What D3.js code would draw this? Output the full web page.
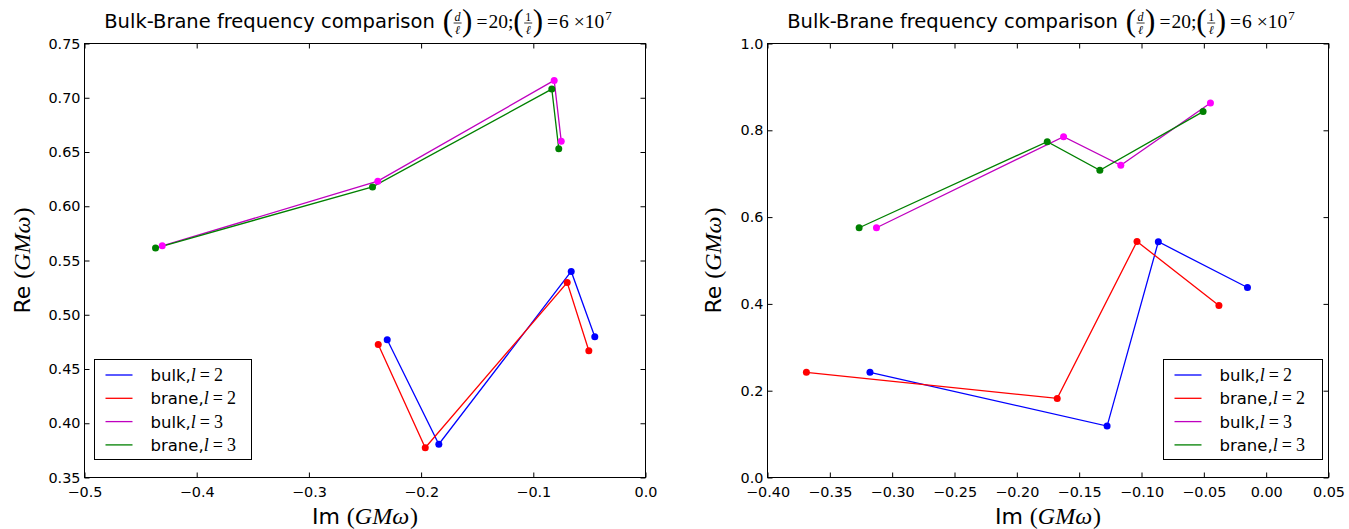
<!DOCTYPE html>
<html>
<head>
<meta charset="utf-8">
<script src="https://cdn.jsdelivr.net/npm/d3@7"></script>
<style>
  body { margin: 0; background: #fff; }
  svg { display: block; }
</style>
</head>
<body>
<svg id="chart" width="1349" height="529"></svg>
<script>
// ---- data: [Im, Re] ----
// left panel
const leftBulkL2  = [[-0.2302, 0.4769], [-0.1842, 0.3807], [-0.0662, 0.5399], [-0.0452, 0.4797]];
const leftBraneL2 = [[-0.2382, 0.4726], [-0.1963, 0.3774], [-0.0698, 0.5297], [-0.0505, 0.4668]];
const leftBulkL3  = [[-0.4307, 0.5635], [-0.2386, 0.6231], [-0.0814, 0.7160], [-0.0751, 0.6600]];
const leftBraneL3 = [[-0.4367, 0.5615], [-0.2433, 0.6178], [-0.0835, 0.7080], [-0.0773, 0.6529]];
// right panel
const rightBulkL2  = [[-0.3178, 0.2423], [-0.1276, 0.1185], [-0.0865, 0.5431], [-0.0150, 0.4377]];
const rightBraneL2 = [[-0.3688, 0.2423], [-0.1676, 0.1823], [-0.1036, 0.5438], [-0.0379, 0.3962]];
const rightBulkL3  = [[-0.3126, 0.5754], [-0.1625, 0.7854], [-0.1166, 0.7192], [-0.0447, 0.8631]];
const rightBraneL3 = [[-0.3265, 0.5754], [-0.1756, 0.7738], [-0.1334, 0.7077], [-0.0506, 0.8431]];

// ticks
const leftXTicks  = [-0.5, -0.4, -0.3, -0.2, -0.1, 0.0];
const leftYTicks  = [0.35, 0.40, 0.45, 0.50, 0.55, 0.60, 0.65, 0.70, 0.75];
const rightXTicks = [-0.40, -0.35, -0.30, -0.25, -0.20, -0.15, -0.10, -0.05, 0.00, 0.05];
const rightYTicks = [0.0, 0.2, 0.4, 0.6, 0.8, 1.0];

const seriesNames = ["bulk,", "brane,", "bulk,", "brane,"];
const seriesL     = ["2", "2", "3", "3"];

// ---- styling ----
const SANS = "DejaVu Sans", SERIF = "Liberation Serif";
const lineColors = ["#0000ff", "#ff0000", "#bf00bf", "#008000"];
const dotColors  = ["#0000ff", "#ff0000", "#ff00ff", "#008000"];

const svg = d3.select("#chart");

// mixed text (sans + math pieces) laid out left to right, centred on cx
function richText(parent, pieces, cx, baseline, rotate){
  const g = parent.append("g");
  const inner = g.append("g");
  let cur = 0;
  pieces.forEach(p => {
    if (p.frac){
      const fs = p.size;
      const n = inner.append("text").text(p.frac[0])
        .attr("font-family", SERIF).attr("font-style", p.numItalic ? "italic" : "normal")
        .attr("font-size", fs).attr("text-anchor", "middle");
      const d = inner.append("text").text(p.frac[1])
        .attr("font-family", SERIF).attr("font-style", "italic")
        .attr("font-size", fs).attr("text-anchor", "middle");
      const w = Math.max(n.node().getComputedTextLength(), d.node().getComputedTextLength()) + 3;
      n.attr("x", cur + w/2).attr("y", baseline - 7.5);
      d.attr("x", cur + w/2).attr("y", baseline + 5.5);
      inner.append("line").attr("x1", cur + 0.5).attr("x2", cur + w - 0.5)
        .attr("y1", baseline - 5).attr("y2", baseline - 5)
        .attr("stroke", "#000").attr("stroke-width", 0.8);
      cur += w;
    } else {
      const t = inner.append("text").text(p.t)
        .attr("x", cur + (p.dx || 0)).attr("y", baseline + (p.dy || 0))
        .attr("font-family", p.serif ? SERIF : SANS)
        .attr("font-style", p.it ? "italic" : "normal")
        .attr("font-size", p.size)
        .attr("fill", "#000");
      cur += (p.dx || 0) + t.node().getComputedTextLength() + (p.after || 0);
    }
  });
  inner.attr("transform", `translate(${-cur/2},0)`);
  if (rotate) g.attr("transform", `translate(${cx},${baseline}) rotate(-90) translate(0,${-baseline})`);
  else g.attr("transform", `translate(${cx},0)`);
  return g;
}

function titlePieces(){
  const big = 31, fs = 19.5;
  return [
    {t: "Bulk-Brane frequency comparison", size: fs, after: 8},
    {t: "(", serif: true, size: big, dy: 3},
    {frac: ["d", "\u2113"], size: 12, numItalic: true},
    {t: ")", serif: true, size: big, dy: 3, after: 4},
    {t: "=", serif: true, size: fs, after: 1},
    {t: "20;", serif: true, size: fs},
    {t: "(", serif: true, size: big, dy: 3},
    {frac: ["1", "\u2113"], size: 12, numItalic: false},
    {t: ")", serif: true, size: big, dy: 3, after: 4},
    {t: "=", serif: true, size: fs, after: 1},
    {t: "6", serif: true, size: fs, after: 5},
    {t: "\u00d710", serif: true, size: fs, after: 1},
    {t: "7", serif: true, size: 13, dy: -8}
  ];
}

function axisLabelPieces(word){
  return [
    {t: word, size: 22, after: 7},
    {t: "(", serif: true, size: 24},
    {t: "GM\u03c9", serif: true, it: true, size: 24, after: 1},
    {t: ")", serif: true, size: 24}
  ];
}

function drawPanel(p){
  const g = svg.append("g");
  const x = d3.scaleLinear().domain(p.xDomain).range([p.x0, p.x1]);
  const y = d3.scaleLinear().domain(p.yDomain).range([p.y1, p.y0]);

  // series lines then dots
  p.series.forEach((s, i) => {
    g.append("path").datum(s)
      .attr("fill", "none").attr("stroke", lineColors[i]).attr("stroke-width", 1.3)
      .attr("d", d3.line().x(d => x(d[0])).y(d => y(d[1])));
  });
  p.series.forEach((s, i) => {
    g.append("g").selectAll("circle").data(s).enter().append("circle")
      .attr("cx", d => x(d[0])).attr("cy", d => y(d[1]))
      .attr("r", 3.5).attr("fill", dotColors[i]);
  });

  // axes, ticks pointing inward on all four sides
  const tick = 5;
  const bottom = g.append("g").attr("transform", `translate(0,${p.y1})`)
    .call(d3.axisBottom(x).tickValues(p.xTicks).tickSize(-tick).tickPadding(9).tickFormat(d3.format(p.xFmt)));
  const top = g.append("g").attr("transform", `translate(0,${p.y0})`)
    .call(d3.axisTop(x).tickValues(p.xTicks).tickSize(-tick).tickFormat(""));
  const left = g.append("g").attr("transform", `translate(${p.x0},0)`)
    .call(d3.axisLeft(y).tickValues(p.yTicks).tickSize(-tick).tickPadding(4).tickFormat(d3.format(p.yFmt)));
  const right = g.append("g").attr("transform", `translate(${p.x1},0)`)
    .call(d3.axisRight(y).tickValues(p.yTicks).tickSize(-tick).tickFormat(""));
  [bottom, top, left, right].forEach(a => {
    a.select(".domain").remove();
    a.selectAll("line").attr("stroke", "#000");
    a.selectAll("text").attr("font-family", SANS).attr("font-size", 14.4).attr("fill", "#000");
  });

  // frame
  g.append("rect").attr("x", p.x0).attr("y", p.y0)
    .attr("width", p.x1 - p.x0).attr("height", p.y1 - p.y0)
    .attr("fill", "none").attr("stroke", "#000").attr("stroke-width", 1);

  // legend
  const L = p.legend;
  const lg = g.append("g");
  lg.append("rect").attr("x", L.x).attr("y", L.y).attr("width", L.w).attr("height", L.h)
    .attr("fill", "#fff").attr("stroke", "#000").attr("stroke-width", 1);
  seriesNames.forEach((name, i) => {
    const cy = L.y + 15.5 + i * 23.3;
    lg.append("line").attr("x1", L.x + 11).attr("x2", L.x + 38)
      .attr("y1", cy).attr("y2", cy).attr("stroke", lineColors[i]).attr("stroke-width", 1.3);
    const t = lg.append("text").attr("x", L.x + 56).attr("y", cy + 6)
      .attr("font-family", SANS).attr("font-size", 16.5).attr("fill", "#000");
    t.append("tspan").text(name);
    t.append("tspan").attr("font-family", SERIF).attr("font-style", "italic").attr("font-size", 18).text("l");
    t.append("tspan").attr("font-family", SERIF).attr("font-size", 18).attr("dx", 4).text("=");
    t.append("tspan").attr("font-family", SERIF).attr("font-size", 18).attr("dx", 4).text(seriesL[i]);
  });

  // title and axis labels
  const cx = (p.x0 + p.x1) / 2;
  richText(svg, titlePieces(), cx - 7, 28);
  richText(svg, axisLabelPieces("Im"), cx, 524);
  richText(svg, axisLabelPieces("Re"), p.ylabelX, (p.y0 + p.y1) / 2, true);
}

drawPanel({
  x0: 84.5, x1: 645.5, y0: 43.5, y1: 477.5,
  xDomain: [-0.5, 0.0], yDomain: [0.35, 0.75],
  xTicks: leftXTicks, yTicks: leftYTicks, xFmt: ".1f", yFmt: ".2f",
  series: [leftBulkL2, leftBraneL2, leftBulkL3, leftBraneL3],
  legend: {x: 94.5, y: 359.5, w: 157, h: 100},
  ylabelX: 30
});

drawPanel({
  x0: 767.5, x1: 1328.5, y0: 43.5, y1: 477.5,
  xDomain: [-0.40, 0.05], yDomain: [0.0, 1.0],
  xTicks: rightXTicks, yTicks: rightYTicks, xFmt: ".2f", yFmt: ".1f",
  series: [rightBulkL2, rightBraneL2, rightBulkL3, rightBraneL3],
  legend: {x: 1163.5, y: 359.5, w: 159, h: 100},
  ylabelX: 721
});
</script>
</body>
</html>
